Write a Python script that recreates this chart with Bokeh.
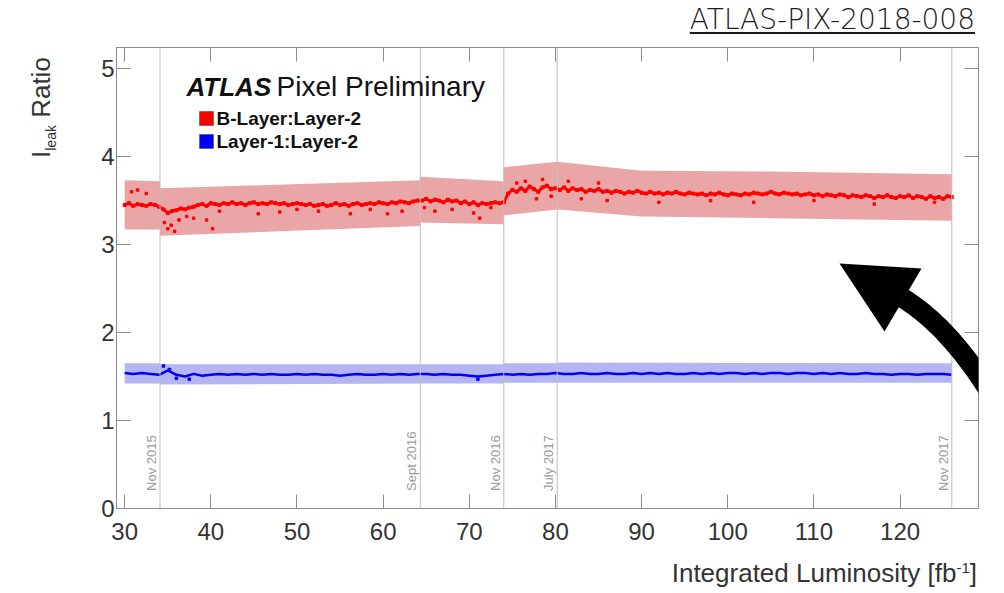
import numpy as np
from bokeh.plotting import figure
from bokeh.layouts import column, row
from bokeh.models import (Range1d, FixedTicker, LinearAxis, Span, Label, Div,
                          PolyAnnotation, BoxAnnotation, CustomJSTickFormatter)
from bokeh.embed import file_html
from bokeh.resources import INLINE

# ---------------- data ----------------
red_start, red_step = 30.0, 0.5
red_ratio = [
    # 30 - 34
    3.45, 3.47, 3.44, 3.46, 3.45, 3.44, 3.46, 3.45, 3.43,
    # 34.5 - 38
    3.40, 3.36, 3.38, 3.39, 3.41, 3.40, 3.42, 3.43,
    # 38.5 - 64
    3.45, 3.46, 3.44, 3.47, 3.46, 3.45, 3.47, 3.46, 3.48, 3.46,
    3.47, 3.45, 3.47, 3.48, 3.46, 3.47, 3.46, 3.48, 3.47, 3.46,
    3.47, 3.45, 3.46, 3.47, 3.46, 3.45, 3.46, 3.44, 3.45, 3.46,
    3.44, 3.45, 3.47, 3.45, 3.46, 3.44, 3.46, 3.47, 3.45, 3.46,
    3.47, 3.46, 3.48, 3.47, 3.46, 3.48, 3.47, 3.49, 3.48, 3.47,
    3.49, 3.50,
    # 64.5 - 74
    3.50, 3.52, 3.49, 3.51, 3.50, 3.48, 3.51, 3.49, 3.50, 3.47,
    3.49, 3.46, 3.48, 3.45, 3.47, 3.46, 3.47, 3.48, 3.47, 3.48,
    # 74.5 - 80
    3.58, 3.62, 3.60, 3.64, 3.61, 3.66, 3.63, 3.60, 3.65, 3.67, 3.63, 3.64,
    # 80.5 - 126
    3.62, 3.65, 3.61, 3.64, 3.62, 3.63, 3.60, 3.62, 3.61, 3.63,
    3.60, 3.61, 3.59, 3.61, 3.60, 3.58, 3.60, 3.59, 3.61, 3.59,
    3.58, 3.60, 3.58, 3.59, 3.57, 3.59, 3.58, 3.60, 3.58, 3.57,
    3.59, 3.58, 3.57, 3.58, 3.56, 3.58, 3.57, 3.59, 3.57, 3.56,
    3.58, 3.57, 3.56, 3.58, 3.57, 3.59, 3.58, 3.57, 3.58, 3.60,
    3.58, 3.57, 3.59, 3.58, 3.57, 3.58, 3.56, 3.57, 3.58, 3.56,
    3.57, 3.55, 3.57, 3.56, 3.55, 3.57, 3.56, 3.54, 3.56, 3.55,
    3.54, 3.56, 3.55, 3.53, 3.55, 3.54, 3.56, 3.54, 3.53, 3.55,
    3.54, 3.56, 3.53, 3.55, 3.54, 3.52, 3.55, 3.53, 3.54, 3.52,
    3.55, 3.54,
]
red_out_lumi = [30.8, 31.5, 32.5, 34.6, 35.0, 35.4, 35.8, 36.3, 37.2, 38.0, 39.5, 40.2,
                41.0, 45.5, 48.0, 50.0, 52.5, 56.2, 58.5, 60.5, 62.2, 64.8, 66.0, 68.0,
                70.5, 71.2, 72.5, 75.5, 76.5, 77.8, 78.5, 79.5, 81.5, 83.0, 85.0, 86.0,
                92.0, 98.0, 103.0, 110.0, 117.0, 124.0]
red_out_ratio = [3.60, 3.62, 3.58, 3.25, 3.18, 3.22, 3.15, 3.28, 3.32, 3.30, 3.28, 3.18,
                 3.38, 3.35, 3.37, 3.40, 3.38, 3.35, 3.40, 3.35, 3.38, 3.42, 3.38, 3.40,
                 3.36, 3.30, 3.42, 3.70, 3.72, 3.52, 3.74, 3.55, 3.72, 3.52, 3.70, 3.50,
                 3.48, 3.50, 3.48, 3.50, 3.46, 3.48]

blue_start, blue_step = 30.0, 1.0
blue_ratio = [
    1.54, 1.53, 1.54, 1.53, 1.52, 1.57, 1.52, 1.50, 1.53, 1.51,
    1.52, 1.53, 1.52, 1.53, 1.52, 1.53, 1.52, 1.53, 1.52, 1.52,
    1.53, 1.52, 1.53, 1.52, 1.52, 1.51, 1.52, 1.53, 1.52, 1.52,
    1.53, 1.52, 1.53, 1.52, 1.53, 1.53, 1.52, 1.53, 1.52, 1.52,
    1.51, 1.50, 1.51, 1.52, 1.53, 1.52, 1.53, 1.52, 1.53, 1.53,
    1.54, 1.53, 1.53, 1.54, 1.53, 1.53, 1.54, 1.53, 1.53, 1.54,
    1.53, 1.54, 1.53, 1.54, 1.53, 1.53, 1.54, 1.53, 1.54, 1.53,
    1.54, 1.54, 1.53, 1.54, 1.53, 1.54, 1.54, 1.53, 1.54, 1.54,
    1.53, 1.54, 1.53, 1.54, 1.53, 1.53, 1.54, 1.53, 1.53, 1.52,
    1.53, 1.53, 1.52, 1.53, 1.53, 1.53, 1.52,
]
blue_out_lumi = [34.5, 35.2, 36.0, 37.5, 71.0]
blue_out_ratio = [1.62, 1.58, 1.48, 1.47, 1.47]

red_band_lumi = [[30, 34.1], [34.1, 64.3], [64.3, 74.0], [74.0, 80.2], [80.2, 90, 105, 126]]
red_band_lo = [[3.17, 3.17], [3.10, 3.21], [3.25, 3.23], [3.33, 3.40], [3.40, 3.32, 3.30, 3.27]]
red_band_hi = [[3.73, 3.72], [3.64, 3.73], [3.77, 3.72], [3.88, 3.94], [3.94, 3.84, 3.83, 3.80]]

blue_band_lumi = [[30, 34.1], [34.1, 64.3], [64.3, 74.0], [74.0, 80.2], [80.2, 126]]
blue_band_lo = [[1.42, 1.42], [1.41, 1.42], [1.42, 1.42], [1.43, 1.43], [1.43, 1.43]]
blue_band_hi = [[1.65, 1.65], [1.64, 1.64], [1.64, 1.64], [1.65, 1.65], [1.66, 1.65]]

vline_lumi = [34.1, 64.3, 74.0, 80.2, 126.0]
vline_labels = ["Nov 2015", "Sept 2016", "Nov 2016", "July 2017", "Nov 2017"]

legend_labels = ["B-Layer:Layer-2", "Layer-1:Layer-2"]
legend_colors = ["#ff0000", "#0000ff"]

x_ticks = [30, 40, 50, 60, 70, 80, 90, 100, 110, 120]
y_ticks = [0, 1, 2, 3, 4, 5]

# ---------------- layout geometry (page pixels) ----------------
FONT = "Liberation Sans"
FL, FB = 116, 508          # frame left / bottom on the page
FT, FR = 47, 978           # frame top / right on the page
TOT_W, TOT_H = 1000, 590
TITLE_H = 36               # title strip on top
YLAB_W = 64                # y-label strip on the left
XLAB_H = 36                # x-label strip at the bottom
P_W = TOT_W - YLAB_W
P_H = TOT_H - TITLE_H - XLAB_H

title_div = Div(
    text=('<div style="width:975px;height:%dpx;text-align:right;font-family:\'DejaVu Sans\';'
          'font-size:28px;font-weight:300;line-height:40px;color:#1a1a1a;white-space:nowrap;">'
          '<span style="text-decoration:underline;text-decoration-thickness:2px;'
          'text-underline-offset:3px;">ATLAS-PIX-2018-008</span></div>') % TITLE_H,
    width=TOT_W, height=TITLE_H, margin=(0, 0, 0, 0))

ylab_div = Div(
    text=('<div style="position:relative;width:%dpx;height:%dpx;">'
          '<div style="position:absolute;left:28px;top:%dpx;transform-origin:0 0;'
          'transform:rotate(-90deg);white-space:nowrap;font-family:\'Liberation Sans\';'
          'font-size:26px;line-height:26px;color:#333333;">I<span style="font-size:14px;'
          'line-height:14px;vertical-align:-6px;">leak</span> Ratio</div></div>')
         % (YLAB_W, P_H, 158 - TITLE_H),
    width=YLAB_W, height=P_H, margin=(0, 0, 0, 0))

xlab_div = Div(
    text=('<div style="width:977px;height:%dpx;text-align:right;font-family:\'Liberation Sans\';'
          'font-size:26px;line-height:26px;padding-top:6px;box-sizing:border-box;'
          'color:#333333;white-space:nowrap;">Integrated Luminosity [fb<sup style="font-size:15px;'
          'line-height:15px;vertical-align:9px;">-1</sup>]</div>') % XLAB_H,
    width=TOT_W, height=XLAB_H, margin=(0, 0, 0, 0))

p = figure(width=P_W, height=P_H, output_backend="svg", toolbar_location=None,
           title=None, x_range=Range1d(29.05, 129.1), y_range=Range1d(0, 5.24),
           min_border_left=FL - YLAB_W, min_border_right=TOT_W - FR,
           min_border_top=FT - TITLE_H, min_border_bottom=TITLE_H + P_H - FB,
           x_axis_location=None, y_axis_location=None, margin=(0, 0, 0, 0))
p.xgrid.visible = False
p.ygrid.visible = False
p.outline_line_color = "#8c8c8c"
p.background_fill_color = "white"
p.border_fill_color = "white"

def style_axis(ax, ticks, labels=True):
    ax.ticker = FixedTicker(ticks=ticks, num_minor_ticks=5)
    ax.axis_line_color = "#8c8c8c"
    ax.major_tick_line_color = "#8c8c8c"
    ax.minor_tick_line_color = "#8c8c8c"
    ax.major_tick_in = 14
    ax.major_tick_out = 0
    ax.minor_tick_in = 7
    ax.minor_tick_out = 0
    if labels:
        ax.major_label_text_font = FONT
        ax.major_label_text_font_size = "24px"
        ax.major_label_text_color = "#333333"
    else:
        ax.formatter = CustomJSTickFormatter(code="return ''")
        ax.major_label_standoff = 0

xb = LinearAxis(); style_axis(xb, x_ticks); xb.major_label_standoff = 14
yl = LinearAxis(); style_axis(yl, y_ticks); yl.major_label_standoff = 2
xt = LinearAxis(); style_axis(xt, x_ticks, labels=False)
yr = LinearAxis(); style_axis(yr, y_ticks, labels=False)
p.add_layout(xb, "below")
p.add_layout(yl, "left")
p.add_layout(xt, "above")
p.add_layout(yr, "right")

# bands
for bx, lo, hi in zip(red_band_lumi, red_band_lo, red_band_hi):
    p.varea(x=bx, y1=lo, y2=hi, fill_color="#eaa6a6", fill_alpha=1.0)
for bx, lo, hi in zip(blue_band_lumi, blue_band_lo, blue_band_hi):
    p.varea(x=bx, y1=lo, y2=hi, fill_color="#b5b5f4", fill_alpha=1.0)

# data
red_lumi = [red_start + red_step * i for i in range(len(red_ratio))]
blue_lumi = [blue_start + blue_step * i for i in range(len(blue_ratio))]
p.line(red_lumi, red_ratio, line_color="#ff0000", line_width=3)
p.scatter(red_lumi, red_ratio, marker="square", size=3, color="#ff0000")
p.scatter(red_out_lumi, red_out_ratio, marker="square", size=2.5, color="#ff0000")
p.line(blue_lumi, blue_ratio, line_color="#0000ff", line_width=2.5)
p.scatter(blue_out_lumi, blue_out_ratio, marker="square", size=2.5, color="#0000ff")

# vertical date lines
for vx, lab in zip(vline_lumi, vline_labels):
    p.add_layout(Span(location=vx, dimension="height", line_color="#bdbdbd", line_width=1))
    p.add_layout(Label(x=vx, y=0.2, text=lab, angle=np.pi / 2, x_offset=-1,
                       text_align="left", text_baseline="bottom",
                       text_font=FONT, text_font_size="13px", text_color="#9a9a9a"))

# ATLAS label and legend (inside the frame; screen units are frame-relative)
p.add_layout(Label(x=186 - FL, y=FB - 86, x_units="screen", y_units="screen",
                   text="ATLAS", text_font=FONT, text_font_size="26px",
                   text_font_style="bold italic", text_color="#111111",
                   text_baseline="middle"))
p.add_layout(Label(x=276 - FL, y=FB - 86, x_units="screen", y_units="screen",
                   text="Pixel Preliminary", text_font=FONT, text_font_size="28px",
                   text_color="#111111", text_baseline="middle"))
for i, (lab, col) in enumerate(zip(legend_labels, legend_colors)):
    top = 111 + 23 * i
    p.add_layout(BoxAnnotation(left=199 - FL, right=213 - FL, top=FB - top, bottom=FB - top - 14,
                               left_units="screen", right_units="screen",
                               top_units="screen", bottom_units="screen",
                               fill_color=col, fill_alpha=1, line_color="#444444",
                               line_alpha=0.5, line_width=1))
    p.add_layout(Label(x=216 - FL, y=FB - (top + 7), x_units="screen", y_units="screen",
                       text=lab, text_font=FONT, text_font_size="19px",
                       text_font_style="bold", text_color="#111111",
                       text_baseline="middle"))

# curved black arrow (decoration)
t = np.linspace(0, 1, 40)
P0, P1, P2 = np.array([903.0, 298.0]), np.array([962.0, 335.0]), np.array([1012.0, 432.0])
c = ((1 - t) ** 2)[:, None] * P0 + (2 * (1 - t) * t)[:, None] * P1 + (t ** 2)[:, None] * P2
d = (2 * (1 - t))[:, None] * (P1 - P0) + (2 * t)[:, None] * (P2 - P1)
nrm = np.stack([-d[:, 1], d[:, 0]], axis=1)
nrm /= np.linalg.norm(nrm, axis=1)[:, None]
w = 20.0
poly = np.vstack([c + nrm * w / 2, (c - nrm * w / 2)[::-1]])
p.add_layout(PolyAnnotation(xs=list(poly[:, 0] - FL), ys=list(FB - poly[:, 1]),
                            xs_units="screen", ys_units="screen",
                            fill_color="black", fill_alpha=1, line_alpha=0))
head_x = [839, 921, 884]
head_y = [263, 268, 331]
p.add_layout(PolyAnnotation(xs=[hx - FL for hx in head_x], ys=[FB - hy for hy in head_y],
                            xs_units="screen", ys_units="screen",
                            fill_color="black", fill_alpha=1, line_alpha=0))

layout = column(title_div, row(ylab_div, p, spacing=0), xlab_div, spacing=0)
open("out.html", "w").write(file_html(layout, INLINE))
